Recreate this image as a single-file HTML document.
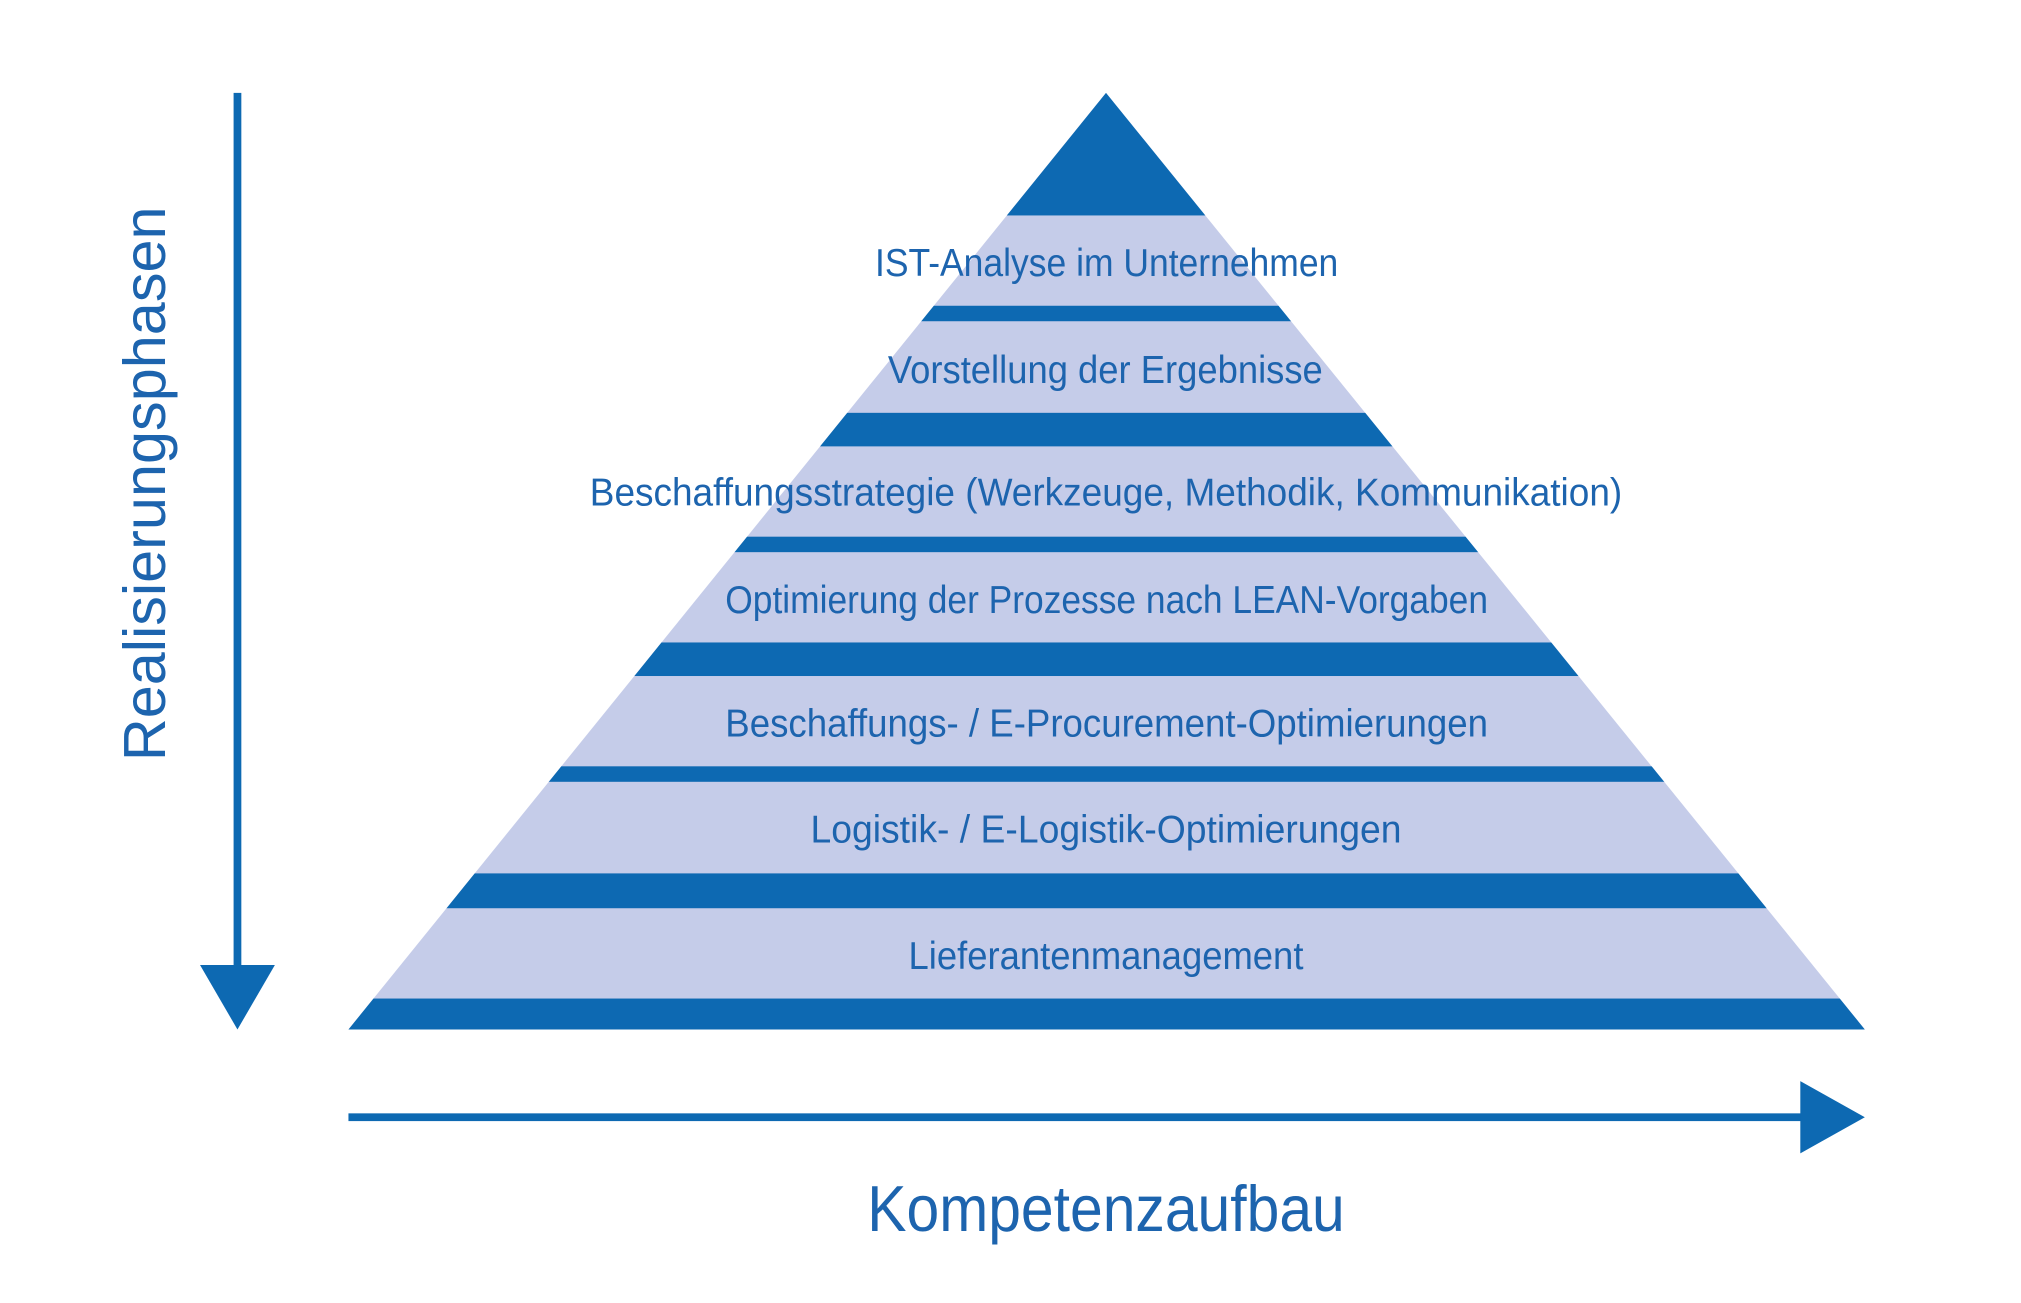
<!DOCTYPE html>
<html><head><meta charset="utf-8"><style>
html,body{margin:0;padding:0;background:#fff;}
svg{display:block;}
text{font-family:"Liberation Sans Narrow","Liberation Sans",sans-serif;fill:#1d64ae;}
</style></head><body>
<svg width="2021" height="1303" viewBox="0 0 1566 1010" preserveAspectRatio="none" xmlns="http://www.w3.org/2000/svg">
<defs><clipPath id="tri"><polygon points="857,72 1445,798 270,798"/></clipPath></defs>
<polygon points="857,72 1445,798 270,798" fill="#c5cce9"/>
<g clip-path="url(#tri)" fill="#0d69b2">
<rect x="0" y="60" width="1550" height="107"/>
<rect x="0" y="237" width="1550" height="12"/>
<rect x="0" y="320" width="1550" height="26"/>
<rect x="0" y="416" width="1550" height="12"/>
<rect x="0" y="498" width="1550" height="26"/>
<rect x="0" y="594" width="1550" height="12"/>
<rect x="0" y="677" width="1550" height="27"/>
<rect x="0" y="774" width="1550" height="30"/>
</g>
<g font-size="30">
<text x="678" y="214" textLength="359" lengthAdjust="spacingAndGlyphs">IST-Analyse im Unternehmen</text>
<text x="688" y="297" textLength="337" lengthAdjust="spacingAndGlyphs">Vorstellung der Ergebnisse</text>
<text x="457" y="392" textLength="800" lengthAdjust="spacingAndGlyphs">Beschaffungsstrategie (Werkzeuge, Methodik, Kommunikation)</text>
<text x="562" y="475" textLength="591" lengthAdjust="spacingAndGlyphs">Optimierung der Prozesse nach LEAN-Vorgaben</text>
<text x="562" y="571" textLength="591" lengthAdjust="spacingAndGlyphs">Beschaffungs- / E-Procurement-Optimierungen</text>
<text x="628" y="653" textLength="458" lengthAdjust="spacingAndGlyphs">Logistik- / E-Logistik-Optimierungen</text>
<text x="704" y="751" textLength="306" lengthAdjust="spacingAndGlyphs">Lieferantenmanagement</text>
</g>
<text x="672" y="954" font-size="50" textLength="370" lengthAdjust="spacingAndGlyphs">Kompetenzaufbau</text>
<text transform="translate(128,590) rotate(-90)" x="0" y="0" font-size="46" style='font-family:"Liberation Sans",sans-serif' textLength="430" lengthAdjust="spacingAndGlyphs">Realisierungsphasen</text>
<rect x="181" y="72" width="6" height="680" fill="#0d69b2"/>
<polygon points="155,748 213,748 184,798" fill="#0d69b2"/>
<rect x="270" y="863" width="1128" height="6" fill="#0d69b2"/>
<polygon points="1395,838 1445,866 1395,894" fill="#0d69b2"/>
</svg>
</body></html>
